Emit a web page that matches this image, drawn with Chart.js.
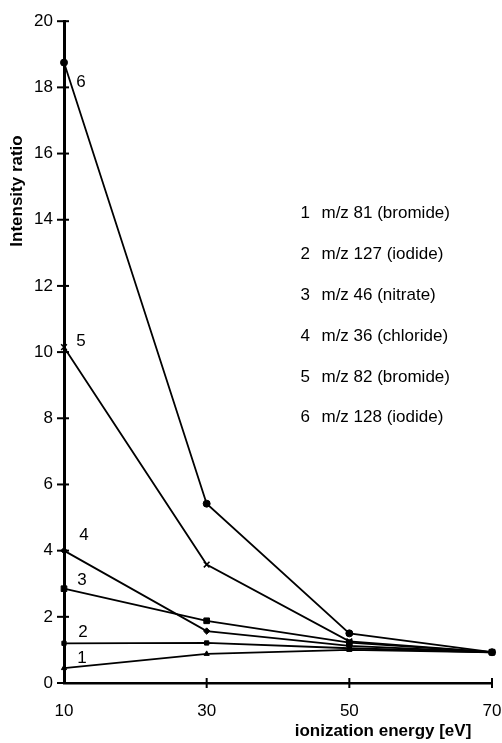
<!DOCTYPE html>
<html>
<head>
<meta charset="utf-8">
<script src="https://cdn.jsdelivr.net/npm/chart.js@4.4.0/dist/chart.umd.min.js"></script>
<style>
html,body{margin:0;padding:0;background:#fff;}
#wrap{width:502px;height:743px;position:relative;}
</style>
</head>
<body>
<div id="wrap"><canvas id="c" width="502" height="743"></canvas></div>
<script>
const energies = [10, 30, 50, 70];
const series1 = [0.45, 0.88, 1.0, 0.93];
const series2 = [1.2, 1.21, 1.05, 0.93];
const series3 = [2.85, 1.88, 1.22, 0.93];
const series4 = [4.0, 1.57, 1.12, 0.93];
const series5 = [10.15, 3.58, 1.26, 0.93];
const series6 = [18.75, 5.42, 1.5, 0.93];
const seriesNumbers = ['1', '2', '3', '4', '5', '6'];
const seriesNames = ['m/z 81 (bromide)', 'm/z 127 (iodide)', 'm/z 46 (nitrate)', 'm/z 36 (chloride)', 'm/z 82 (bromide)', 'm/z 128 (iodide)'];
const xTicks = [10, 30, 50, 70];
const yTicks = [0, 2, 4, 6, 8, 10, 12, 14, 16, 18, 20];
const xTitle = 'ionization energy [eV]';
const yTitle = 'Intensity ratio';

const FONT = "'Liberation Sans', Arial, Helvetica, sans-serif";
const allSeries = [series1, series2, series3, series4, series5, series6];
const pointStyles = ['triangle', 'rect', 'rect', 'rectRot', 'crossRot', 'circle'];
const pointRadii = [3, 3, 4, 3.2, 4, 3.5];
const labelOffsets = [[18, -10], [19, -11], [18, -8], [20, -15], [17, -6], [17, 20]];

const datasets = allSeries.map((s, i) => ({
  label: seriesNumbers[i],
  data: energies.map((e, j) => ({x: e, y: s[j]})),
  borderColor: '#000',
  backgroundColor: '#000',
  borderWidth: 1.8,
  pointStyle: pointStyles[i],
  pointRadius: pointRadii[i],
  pointBorderWidth: pointStyles[i] === 'crossRot' ? 1.6 : 1,
  pointBackgroundColor: '#000',
  pointBorderColor: '#000',
  tension: 0,
  clip: false
}));

const decor = {
  id: 'decor',
  afterDraw(chart) {
    const ctx = chart.ctx;
    const xs = chart.scales.x, ys = chart.scales.y;
    ctx.save();
    ctx.strokeStyle = '#000';
    ctx.lineWidth = 2;
    // y ticks crossing the axis
    yTicks.forEach(v => {
      const py = ys.getPixelForValue(v);
      const px = xs.getPixelForValue(10);
      ctx.beginPath(); ctx.moveTo(px - 7, py); ctx.lineTo(px + 5, py); ctx.stroke();
    });
    // x ticks crossing the axis
    xTicks.slice(1).forEach(v => {
      const px = xs.getPixelForValue(v);
      const py = ys.getPixelForValue(0);
      ctx.beginPath(); ctx.moveTo(px, py - 5); ctx.lineTo(px, py + 5); ctx.stroke();
    });
    ctx.fillStyle = '#000';
    ctx.textBaseline = 'middle';
    // axis titles
    ctx.font = 'bold 17px ' + FONT;
    ctx.textAlign = 'center';
    ctx.fillText(xTitle, 383, 731);
    ctx.save();
    ctx.translate(17, 191);
    ctx.rotate(-Math.PI / 2);
    ctx.fillText(yTitle, 0, 0);
    ctx.restore();
    // series number labels near first point
    ctx.font = '17px ' + FONT;
    chart.data.datasets.forEach((ds, i) => {
      const pt = chart.getDatasetMeta(i).data[0];
      ctx.fillText(seriesNumbers[i], pt.x + labelOffsets[i][0], pt.y + labelOffsets[i][1]);
    });
    // key text
    ctx.textAlign = 'left';
    ctx.font = '17px ' + FONT;
    const kx = xs.getPixelForValue(43.15);
    const ky0 = ys.getPixelForValue(14.19);
    const step = ys.getPixelForValue(0) - ys.getPixelForValue(1.235);
    seriesNames.forEach((n, i) => {
      const y = ky0 + i * step;
      ctx.fillText(seriesNumbers[i], kx, y);
      ctx.fillText(n, kx + 21, y);
    });
    ctx.restore();
  }
};

new Chart(document.getElementById('c'), {
  type: 'line',
  data: { datasets },
  options: {
    responsive: false,
    animation: false,
    devicePixelRatio: 1,
    layout: { padding: { top: 19, right: 10, left: 0, bottom: 0 } },
    plugins: { legend: { display: false }, tooltip: { enabled: false } },
    scales: {
      x: {
        type: 'linear',
        min: 10, max: 70,
        afterFit(s) { s.height = 60; s.paddingRight = 0; s.paddingLeft = 0; },
        afterBuildTicks(s) { s.ticks = xTicks.map(v => ({value: v})); },
        grid: { display: false, drawTicks: false },
        border: { display: true, color: '#000', width: 2.5 },
        ticks: { color: '#000', font: { family: FONT, size: 17 }, padding: 18, maxRotation: 0 },
        title: { display: false }
      },
      y: {
        min: 0, max: 20,
        afterFit(s) { s.width = 64; },
        afterBuildTicks(s) { s.ticks = yTicks.map(v => ({value: v})); },
        grid: { display: false, drawTicks: false },
        border: { display: true, color: '#000', width: 3 },
        ticks: { color: '#000', font: { family: FONT, size: 17 }, padding: 11 },
        title: { display: false }
      }
    }
  },
  plugins: [decor]
});
</script>
</body>
</html>
